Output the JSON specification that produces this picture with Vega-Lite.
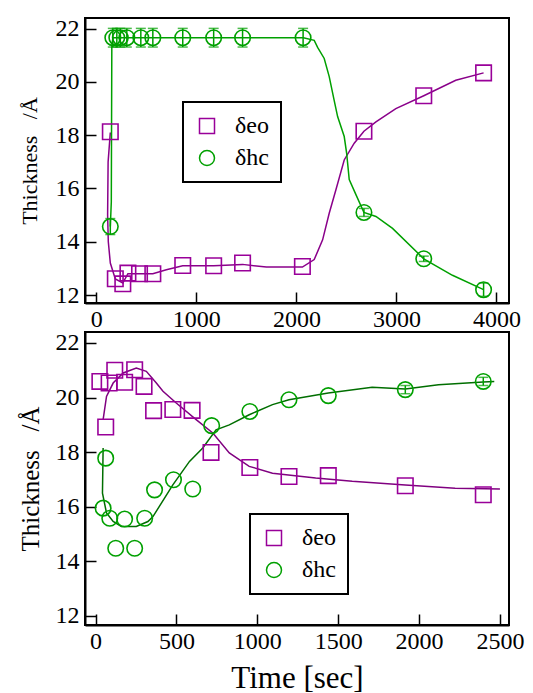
{
  "$schema": "https://vega.github.io/schema/vega-lite/v6.json",
  "background": "white",
  "padding": {"left": 17, "top": 15, "right": 5, "bottom": 0},
  "spacing": -3,
  "config": {
    "font": "Liberation Serif",
    "view": {"stroke": "black", "strokeWidth": 2},
    "axis": {
      "domainColor": "black", "domainWidth": 2, "tickColor": "black", "tickWidth": 1.5,
      "tickSize": -11, "labelFont": "Liberation Serif", "labelFontSize": 24,
      "labelColor": "black", "grid": false, "titleFont": "Liberation Serif", "titleFontWeight": "normal",
      "titleColor": "black"
    },
    "axisX": {"labelPadding": 15},
    "axisY": {"labelPadding": 17},
    "legend": {
      "orient": "none", "strokeColor": "black", "strokeWidth": 2, "fillColor": "white", "padding": 12,
      "labelFont": "Liberation Serif", "labelFontSize": 24, "labelColor": "black", "labelOffset": 16,
      "rowPadding": 8, "symbolSize": 225, "symbolStrokeWidth": 1.5
    }
  },
  "datasets": {
    "top_pts": [
      {"t": 140, "v": 18.13, "s": "eo"}, {"t": 190, "v": 12.61, "s": "eo"}, {"t": 265, "v": 12.42, "s": "eo"},
      {"t": 316, "v": 12.82, "s": "eo"}, {"t": 432, "v": 12.8, "s": "eo"}, {"t": 565, "v": 12.8, "s": "eo"},
      {"t": 864, "v": 13.11, "s": "eo"}, {"t": 1173, "v": 13.1, "s": "eo"}, {"t": 1462, "v": 13.2, "s": "eo"},
      {"t": 2060, "v": 13.07, "s": "eo"}, {"t": 2675, "v": 18.15, "s": "eo"}, {"t": 3273, "v": 19.48, "s": "eo"},
      {"t": 3871, "v": 20.34, "s": "eo"},
      {"t": 140, "v": 14.57, "s": "hc", "lo": 14.27, "hi": 14.87},
      {"t": 165, "v": 21.66, "s": "hc", "lo": 21.31, "hi": 22.01},
      {"t": 205, "v": 21.66, "s": "hc", "lo": 21.31, "hi": 22.01},
      {"t": 240, "v": 21.66, "s": "hc", "lo": 21.31, "hi": 22.01},
      {"t": 305, "v": 21.66, "s": "hc", "lo": 21.31, "hi": 22.01},
      {"t": 445, "v": 21.66, "s": "hc", "lo": 21.31, "hi": 22.01},
      {"t": 565, "v": 21.66, "s": "hc", "lo": 21.31, "hi": 22.01},
      {"t": 864, "v": 21.66, "s": "hc", "lo": 21.31, "hi": 22.01},
      {"t": 1173, "v": 21.66, "s": "hc", "lo": 21.31, "hi": 22.01},
      {"t": 1462, "v": 21.66, "s": "hc", "lo": 21.31, "hi": 22.01},
      {"t": 2067, "v": 21.66, "s": "hc", "lo": 21.31, "hi": 22.01},
      {"t": 2675, "v": 15.1, "s": "hc", "lo": 14.95, "hi": 15.25},
      {"t": 3273, "v": 13.36, "s": "hc", "lo": 13.26, "hi": 13.46},
      {"t": 3871, "v": 12.2, "s": "hc", "lo": 11.95, "hi": 12.45}
    ],
    "top_curve": [
      {"o": 1, "t": 140, "v": 18.1, "s": "eo"}, {"o": 2, "t": 118, "v": 17.0, "s": "eo"}, {"o": 3, "t": 113, "v": 15.0, "s": "eo"},
      {"o": 4, "t": 120, "v": 14.0, "s": "eo"}, {"o": 5, "t": 140, "v": 13.2, "s": "eo"}, {"o": 6, "t": 190, "v": 12.6, "s": "eo"},
      {"o": 7, "t": 265, "v": 12.45, "s": "eo"}, {"o": 8, "t": 316, "v": 12.8, "s": "eo"}, {"o": 9, "t": 432, "v": 12.8, "s": "eo"},
      {"o": 10, "t": 565, "v": 12.8, "s": "eo"}, {"o": 11, "t": 700, "v": 12.95, "s": "eo"}, {"o": 12, "t": 864, "v": 13.1, "s": "eo"},
      {"o": 13, "t": 1173, "v": 13.1, "s": "eo"}, {"o": 14, "t": 1462, "v": 13.15, "s": "eo"}, {"o": 15, "t": 1700, "v": 13.05, "s": "eo"},
      {"o": 16, "t": 2060, "v": 13.05, "s": "eo"}, {"o": 17, "t": 2178, "v": 13.33, "s": "eo"}, {"o": 18, "t": 2262, "v": 14.07, "s": "eo"},
      {"o": 19, "t": 2328, "v": 15.07, "s": "eo"}, {"o": 20, "t": 2395, "v": 15.95, "s": "eo"}, {"o": 21, "t": 2478, "v": 17.07, "s": "eo"},
      {"o": 22, "t": 2578, "v": 17.7, "s": "eo"}, {"o": 23, "t": 2675, "v": 18.15, "s": "eo"}, {"o": 24, "t": 2795, "v": 18.5, "s": "eo"},
      {"o": 25, "t": 2994, "v": 19.0, "s": "eo"}, {"o": 26, "t": 3273, "v": 19.48, "s": "eo"}, {"o": 27, "t": 3593, "v": 20.06, "s": "eo"},
      {"o": 28, "t": 3871, "v": 20.34, "s": "eo"},
      {"o": 1, "t": 140, "v": 14.57, "s": "hc"}, {"o": 2, "t": 150, "v": 15.5, "s": "hc"}, {"o": 3, "t": 155, "v": 21.3, "s": "hc"},
      {"o": 4, "t": 165, "v": 21.66, "s": "hc"}, {"o": 5, "t": 2070, "v": 21.66, "s": "hc"}, {"o": 6, "t": 2178, "v": 21.56, "s": "hc"},
      {"o": 7, "t": 2212, "v": 21.3, "s": "hc"}, {"o": 8, "t": 2278, "v": 20.88, "s": "hc"}, {"o": 9, "t": 2328, "v": 20.2, "s": "hc"},
      {"o": 10, "t": 2378, "v": 19.3, "s": "hc"}, {"o": 11, "t": 2412, "v": 18.7, "s": "hc"}, {"o": 12, "t": 2478, "v": 17.95, "s": "hc"},
      {"o": 13, "t": 2502, "v": 17.33, "s": "hc"}, {"o": 14, "t": 2528, "v": 16.33, "s": "hc"}, {"o": 15, "t": 2595, "v": 15.77, "s": "hc"},
      {"o": 16, "t": 2675, "v": 15.1, "s": "hc"}, {"o": 17, "t": 2795, "v": 14.95, "s": "hc"}, {"o": 18, "t": 2961, "v": 14.5, "s": "hc"},
      {"o": 19, "t": 3273, "v": 13.36, "s": "hc"}, {"o": 20, "t": 3560, "v": 12.74, "s": "hc"}, {"o": 21, "t": 3871, "v": 12.2, "s": "hc"}
    ],
    "bot_pts": [
      {"t": 27, "v": 20.59, "s": "eo"}, {"t": 63, "v": 18.92, "s": "eo"}, {"t": 84, "v": 20.53, "s": "eo"},
      {"t": 119, "v": 21.0, "s": "eo"}, {"t": 180, "v": 20.56, "s": "eo"}, {"t": 242, "v": 21.02, "s": "eo"},
      {"t": 300, "v": 20.41, "s": "eo"}, {"t": 359, "v": 19.52, "s": "eo"}, {"t": 478, "v": 19.56, "s": "eo"},
      {"t": 597, "v": 19.53, "s": "eo"}, {"t": 714, "v": 17.99, "s": "eo"}, {"t": 954, "v": 17.44, "s": "eo"},
      {"t": 1196, "v": 17.11, "s": "eo"}, {"t": 1439, "v": 17.14, "s": "eo"}, {"t": 1915, "v": 16.77, "s": "eo"},
      {"t": 2397, "v": 16.44, "s": "eo"},
      {"t": 47, "v": 15.95, "s": "hc"}, {"t": 63, "v": 17.78, "s": "hc"}, {"t": 88, "v": 15.58, "s": "hc"},
      {"t": 125, "v": 14.48, "s": "hc"}, {"t": 180, "v": 15.55, "s": "hc"}, {"t": 242, "v": 14.48, "s": "hc"},
      {"t": 304, "v": 15.58, "s": "hc"}, {"t": 365, "v": 16.62, "s": "hc"}, {"t": 482, "v": 16.99, "s": "hc"},
      {"t": 601, "v": 16.65, "s": "hc"}, {"t": 718, "v": 18.97, "s": "hc"}, {"t": 954, "v": 19.49, "s": "hc"},
      {"t": 1196, "v": 19.92, "s": "hc"}, {"t": 1439, "v": 20.07, "s": "hc"},
      {"t": 1915, "v": 20.29, "s": "hc", "lo": 20.14, "hi": 20.44},
      {"t": 2397, "v": 20.59, "s": "hc", "lo": 20.44, "hi": 20.74}
    ],
    "bot_curve": [
      {"o": 1, "t": 47, "v": 19.19, "s": "eo"}, {"o": 2, "t": 68, "v": 20.04, "s": "eo"}, {"o": 3, "t": 109, "v": 20.53, "s": "eo"},
      {"o": 4, "t": 171, "v": 20.9, "s": "eo"}, {"o": 5, "t": 252, "v": 21.08, "s": "eo"}, {"o": 6, "t": 314, "v": 20.96, "s": "eo"},
      {"o": 7, "t": 376, "v": 20.53, "s": "eo"}, {"o": 8, "t": 417, "v": 20.23, "s": "eo"}, {"o": 9, "t": 499, "v": 19.8, "s": "eo"},
      {"o": 10, "t": 622, "v": 19.19, "s": "eo"}, {"o": 11, "t": 725, "v": 18.7, "s": "eo"}, {"o": 12, "t": 827, "v": 17.97, "s": "eo"},
      {"o": 13, "t": 950, "v": 17.48, "s": "eo"}, {"o": 14, "t": 1094, "v": 17.23, "s": "eo"}, {"o": 15, "t": 1361, "v": 17.05, "s": "eo"},
      {"o": 16, "t": 1587, "v": 16.93, "s": "eo"}, {"o": 17, "t": 1915, "v": 16.8, "s": "eo"}, {"o": 18, "t": 2223, "v": 16.68, "s": "eo"},
      {"o": 19, "t": 2500, "v": 16.65, "s": "eo"},
      {"o": 1, "t": 47, "v": 18.15, "s": "hc"}, {"o": 2, "t": 43, "v": 16.5, "s": "hc"}, {"o": 3, "t": 68, "v": 15.77, "s": "hc"},
      {"o": 4, "t": 109, "v": 15.46, "s": "hc"}, {"o": 5, "t": 160, "v": 15.28, "s": "hc"}, {"o": 6, "t": 252, "v": 15.28, "s": "hc"},
      {"o": 7, "t": 324, "v": 15.46, "s": "hc"}, {"o": 8, "t": 355, "v": 15.64, "s": "hc"}, {"o": 9, "t": 478, "v": 16.8, "s": "hc"},
      {"o": 10, "t": 581, "v": 17.66, "s": "hc"}, {"o": 11, "t": 663, "v": 18.15, "s": "hc"}, {"o": 12, "t": 745, "v": 18.82, "s": "hc"},
      {"o": 13, "t": 827, "v": 19.0, "s": "hc"}, {"o": 14, "t": 950, "v": 19.37, "s": "hc"}, {"o": 15, "t": 1094, "v": 19.74, "s": "hc"},
      {"o": 16, "t": 1196, "v": 19.92, "s": "hc"}, {"o": 17, "t": 1439, "v": 20.17, "s": "hc"}, {"o": 18, "t": 1710, "v": 20.38, "s": "hc"},
      {"o": 19, "t": 1915, "v": 20.31, "s": "hc"}, {"o": 20, "t": 2120, "v": 20.47, "s": "hc"}, {"o": 21, "t": 2397, "v": 20.57, "s": "hc"},
      {"o": 22, "t": 2465, "v": 20.59, "s": "hc"}
    ]
  },
  "resolve": {
    "scale": {"x": "independent", "y": "independent", "color": "independent", "shape": "independent"},
    "legend": {"color": "independent", "shape": "independent"}
  },
  "vconcat": [
    {
      "width": 424,
      "height": 285,
      "layer": [
        {
          "data": {"name": "top_curve"},
          "transform": [{"filter": "datum.s == 'eo'"}],
          "mark": {"type": "line", "strokeWidth": 1.5, "color": "#8a008a"},
          "encoding": {
            "x": {"field": "t", "type": "quantitative", "scale": {"domain": [-113, 4125], "nice": false, "zero": false}},
            "y": {"field": "v", "type": "quantitative", "scale": {"domain": [11.7, 22.4], "nice": false, "zero": false}},
            "order": {"field": "o", "type": "quantitative"}
          }
        },
        {
          "data": {"name": "top_curve"},
          "transform": [{"filter": "datum.s == 'hc'"}],
          "mark": {"type": "line", "strokeWidth": 1.5, "color": "#00a000"},
          "encoding": {
            "x": {"field": "t", "type": "quantitative"},
            "y": {"field": "v", "type": "quantitative"},
            "order": {"field": "o", "type": "quantitative"}
          }
        },
        {
          "data": {"name": "top_pts"},
          "transform": [{"filter": "isValid(datum.lo)"}],
          "layer": [
            {
              "mark": {"type": "rule", "color": "#00a000", "strokeWidth": 1.5},
              "encoding": {
                "x": {"field": "t", "type": "quantitative"},
                "y": {"field": "lo", "type": "quantitative"},
                "y2": {"field": "hi"}
              }
            },
            {
              "mark": {"type": "tick", "orient": "horizontal", "color": "#00a000", "size": 10, "thickness": 1.5},
              "encoding": {
                "x": {"field": "t", "type": "quantitative"},
                "y": {"field": "lo", "type": "quantitative"}
              }
            },
            {
              "mark": {"type": "tick", "orient": "horizontal", "color": "#00a000", "size": 10, "thickness": 1.5},
              "encoding": {
                "x": {"field": "t", "type": "quantitative"},
                "y": {"field": "hi", "type": "quantitative"}
              }
            }
          ]
        },
        {
          "data": {"name": "top_pts"},
          "mark": {"type": "point", "filled": false, "size": 240, "strokeWidth": 1.6, "opacity": 1},
          "encoding": {
            "x": {"field": "t", "type": "quantitative",
              "axis": {"title": null, "values": [0, 1000, 2000, 3000, 4000], "format": "d", "labelFlush": false}},
            "y": {"field": "v", "type": "quantitative",
              "axis": {"title": "Thickness\u00a0\u00a0\u00a0/Å", "titleFontSize": 22, "titlePadding": 14, "values": [12, 14, 16, 18, 20, 22]}},
            "color": {"field": "s", "type": "nominal", "scale": {"domain": ["eo", "hc"], "range": ["#990099", "#00a000"]},
              "legend": {"title": null, "orient": "none", "legendX": 98, "legendY": 84, "direction": "vertical",
                "labelExpr": "datum.label == 'eo' ? 'δeo' : 'δhc'"}},
            "shape": {"field": "s", "type": "nominal", "scale": {"domain": ["eo", "hc"], "range": ["square", "circle"]},
              "legend": {"title": null, "orient": "none", "legendX": 98, "legendY": 84, "direction": "vertical",
                "labelExpr": "datum.label == 'eo' ? 'δeo' : 'δhc'"}}
          }
        }
      ]
    },
    {
      "width": 424,
      "height": 293,
      "layer": [
        {
          "data": {"name": "bot_curve"},
          "transform": [{"filter": "datum.s == 'eo'"}],
          "mark": {"type": "line", "strokeWidth": 1.5, "color": "#800080"},
          "encoding": {
            "x": {"field": "t", "type": "quantitative", "scale": {"domain": [-65, 2556], "nice": false, "zero": false}},
            "y": {"field": "v", "type": "quantitative", "scale": {"domain": [11.67, 22.4], "nice": false, "zero": false}},
            "order": {"field": "o", "type": "quantitative"}
          }
        },
        {
          "data": {"name": "bot_curve"},
          "transform": [{"filter": "datum.s == 'hc'"}],
          "mark": {"type": "line", "strokeWidth": 1.5, "color": "#006e00"},
          "encoding": {
            "x": {"field": "t", "type": "quantitative"},
            "y": {"field": "v", "type": "quantitative"},
            "order": {"field": "o", "type": "quantitative"}
          }
        },
        {
          "data": {"name": "bot_pts"},
          "transform": [{"filter": "isValid(datum.lo)"}],
          "layer": [
            {
              "mark": {"type": "rule", "color": "#00a000", "strokeWidth": 1.5},
              "encoding": {
                "x": {"field": "t", "type": "quantitative"},
                "y": {"field": "lo", "type": "quantitative"},
                "y2": {"field": "hi"}
              }
            },
            {
              "mark": {"type": "tick", "orient": "horizontal", "color": "#00a000", "size": 10, "thickness": 1.5},
              "encoding": {
                "x": {"field": "t", "type": "quantitative"},
                "y": {"field": "lo", "type": "quantitative"}
              }
            },
            {
              "mark": {"type": "tick", "orient": "horizontal", "color": "#00a000", "size": 10, "thickness": 1.5},
              "encoding": {
                "x": {"field": "t", "type": "quantitative"},
                "y": {"field": "hi", "type": "quantitative"}
              }
            }
          ]
        },
        {
          "data": {"name": "bot_pts"},
          "mark": {"type": "point", "filled": false, "size": 240, "strokeWidth": 1.6, "opacity": 1},
          "encoding": {
            "x": {"field": "t", "type": "quantitative",
              "axis": {"title": "Time [sec]", "titleFontSize": 31, "titlePadding": 10,
                "values": [0, 500, 1000, 1500, 2000, 2500], "format": "d", "labelFlush": false}},
            "y": {"field": "v", "type": "quantitative",
              "axis": {"title": "Thickness\u00a0\u00a0\u00a0/Å", "titleFontSize": 25, "titlePadding": 12, "values": [12, 14, 16, 18, 20, 22]}},
            "color": {"field": "s", "type": "nominal", "scale": {"domain": ["eo", "hc"], "range": ["#990099", "#00a000"]},
              "legend": {"title": null, "orient": "none", "legendX": 165, "legendY": 182, "direction": "vertical",
                "labelExpr": "datum.label == 'eo' ? 'δeo' : 'δhc'"}},
            "shape": {"field": "s", "type": "nominal", "scale": {"domain": ["eo", "hc"], "range": ["square", "circle"]},
              "legend": {"title": null, "orient": "none", "legendX": 165, "legendY": 182, "direction": "vertical",
                "labelExpr": "datum.label == 'eo' ? 'δeo' : 'δhc'"}}
          }
        }
      ]
    }
  ]
}
